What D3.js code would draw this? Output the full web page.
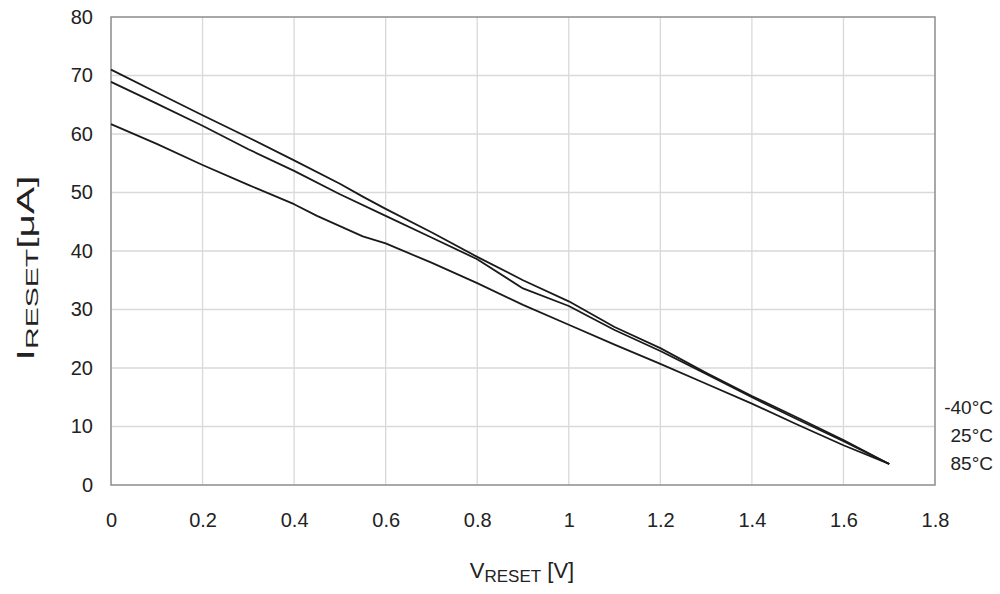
<!DOCTYPE html>
<html><head><meta charset="utf-8">
<script src="https://cdn.jsdelivr.net/npm/d3@7"></script>
<style>body{margin:0;background:#fff}svg{display:block}text{font-family:"Liberation Sans",Arial,sans-serif;fill:#222}</style>
</head><body><svg id="c" width="1000" height="594"></svg>
<script>
const xTicks = [0,0.2,0.4,0.6,0.8,1,1.2,1.4,1.6,1.8];
const yTicks = [0,10,20,30,40,50,60,70,80];
const seriesNames = ["-40°C","25°C","85°C"];
const vTop = [0,0.1,0.2,0.3,0.4,0.5,0.55,0.6,0.7,0.8,0.9,1.0,1.1,1.2,1.3,1.4,1.5,1.6,1.7];
const iTop = [71.0,67.1,63.2,59.4,55.5,51.5,49.3,47.2,43.2,39.0,35.0,31.4,27.0,23.4,19.2,15.2,11.5,7.7,3.6];
const vMid = [0,0.1,0.2,0.3,0.4,0.5,0.6,0.7,0.8,0.9,1.0,1.1,1.2,1.3,1.4,1.5,1.6,1.7];
const iMid = [68.9,65.2,61.4,57.4,53.7,49.7,46.0,42.3,38.6,33.6,30.6,26.5,22.9,19.0,15.0,11.2,7.5,3.6];
const vLow = [0,0.1,0.2,0.3,0.4,0.45,0.55,0.6,0.7,0.8,0.9,1.0,1.1,1.2,1.3,1.4,1.5,1.6,1.7];
const iLow = [61.7,58.3,54.7,51.3,48.0,46.0,42.5,41.3,38.0,34.5,30.8,27.4,24.0,20.7,17.3,13.9,10.3,6.8,3.6];

const svg = d3.select("#c");
const L=111, R=935, T=17, B=485;
const x = d3.scaleLinear().domain([0,1.8]).range([L,R]);
const y = d3.scaleLinear().domain([0,80]).range([B,T]);
const FF = "Liberation Sans, Arial, sans-serif";

// grid
svg.append("g").selectAll("line").data(xTicks.slice(1,-1)).join("line")
  .attr("x1",d=>x(d)).attr("x2",d=>x(d)).attr("y1",T).attr("y2",B)
  .attr("stroke","#d9d9d9").attr("stroke-width",1.3);
svg.append("g").selectAll("line").data(yTicks.slice(1,-1)).join("line")
  .attr("y1",d=>y(d)).attr("y2",d=>y(d)).attr("x1",L).attr("x2",R)
  .attr("stroke","#d9d9d9").attr("stroke-width",1.3);
// frame
svg.append("rect").attr("x",L).attr("y",T).attr("width",R-L).attr("height",B-T)
  .attr("fill","none").attr("stroke","#8c8c8c").attr("stroke-width",1.5);

// axes labels
const xa = svg.append("g").attr("transform",`translate(0,${B})`)
  .call(d3.axisBottom(x).tickValues(xTicks).tickSize(0).tickPadding(28).tickFormat(d=>d3.format("")(d)));
xa.select(".domain").remove();
xa.selectAll("text").attr("font-size",20).attr("fill","#222").style("font-family",FF);
const ya = svg.append("g").attr("transform",`translate(${L},0)`)
  .call(d3.axisLeft(y).tickValues(yTicks).tickSize(0).tickPadding(18));
ya.select(".domain").remove();
ya.selectAll("text").attr("font-size",20).attr("fill","#222").style("font-family",FF);

// lines
const line = d3.line().x(d=>x(d[0])).y(d=>y(d[1]));
const series = [d3.zip(vTop,iTop), d3.zip(vMid,iMid), d3.zip(vLow,iLow)];
svg.append("g").selectAll("path").data(series).join("path")
  .attr("d",line).attr("fill","none").attr("stroke","#1a1a1a").attr("stroke-width",1.8)
  .attr("stroke-linejoin","round");

// legend labels
svg.append("g").selectAll("text").data(seriesNames).join("text")
  .attr("x",993).attr("y",(d,i)=>414+i*28).attr("text-anchor","end")
  .attr("font-size",19).text(d=>d);

// axis titles
const xt = svg.append("text").attr("x",522).attr("y",578).attr("text-anchor","middle").attr("font-size",22);
xt.append("tspan").text("V");
xt.append("tspan").attr("font-size",17).attr("dy",4).text("RESET");
xt.append("tspan").attr("dy",-4).text(" [V]");
const yt = svg.append("text").attr("transform","translate(34,268) rotate(-90) scale(1.77,1)").attr("text-anchor","middle").attr("font-size",23);
yt.append("tspan").text("I");
yt.append("tspan").attr("font-size",17).attr("dy",4).text("RESET");
yt.append("tspan").attr("dy",-4).text("[μA]");
</script></body></html>
